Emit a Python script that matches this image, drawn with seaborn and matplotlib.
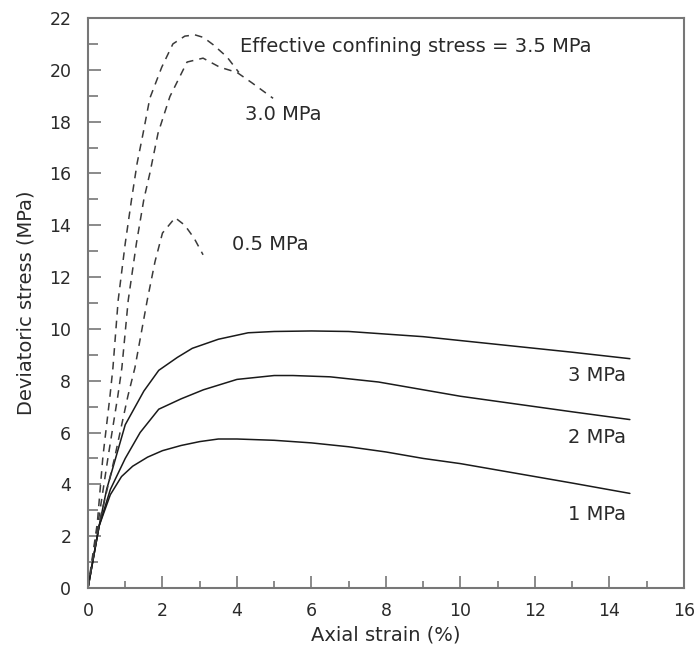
import matplotlib
matplotlib.use("Agg")
import matplotlib.pyplot as plt
from matplotlib.ticker import MultipleLocator
import seaborn as sns

# Drained tests (solid) at effective confining stress 1, 2, 3 MPa
strain_1 = [0, 0.3, 0.6, 0.9, 1.2, 1.6, 2.0, 2.5, 3.0, 3.5, 4.0, 5, 6, 7, 8, 9, 10, 11, 12, 13, 14.55]
stress_1 = [0, 2.4, 3.6, 4.3, 4.7, 5.05, 5.3, 5.5, 5.65, 5.75, 5.75, 5.7, 5.6, 5.45, 5.25, 5.0, 4.8, 4.55, 4.3, 4.05, 3.65]

strain_2 = [0, 0.3, 0.6, 1.0, 1.4, 1.9, 2.5, 3.1, 4.0, 5.0, 5.5, 6.5, 7.8, 9, 10, 11, 12, 13, 14.55]
stress_2 = [0, 2.4, 3.8, 5.0, 6.0, 6.9, 7.3, 7.65, 8.05, 8.2, 8.2, 8.15, 7.95, 7.65, 7.4, 7.2, 7.0, 6.8, 6.5]

strain_3 = [0, 0.3, 0.5, 1.0, 1.5, 1.9, 2.4, 2.8, 3.5, 4.3, 5.0, 6, 7, 8, 9, 10, 11, 12, 13, 14.55]
stress_3 = [0, 2.4, 3.8, 6.3, 7.6, 8.4, 8.9, 9.25, 9.6, 9.85, 9.9, 9.92, 9.9, 9.8, 9.7, 9.55, 9.4, 9.25, 9.1, 8.85]

# Undrained tests (dashed) at effective confining stress 0.5, 3.0, 3.5 MPa
strain_05 = [0, 0.3, 0.72, 1.07, 1.26, 1.59, 1.8, 2.0, 2.34, 2.6, 2.85, 3.09]
stress_05 = [0, 2.5, 5.06, 7.4, 8.5, 11.1, 12.6, 13.7, 14.29, 14.0, 13.5, 12.86]

strain_30 = [0, 0.27, 0.54, 0.80, 0.91, 1.08, 1.3, 1.50, 1.66, 1.88, 2.2, 2.66, 3.09, 3.54, 4.0, 4.4, 4.97]
stress_30 = [0, 2.5, 5.06, 7.4, 8.5, 11.1, 13.3, 15.0, 16.0, 17.55, 18.97, 20.3, 20.45, 20.1, 19.9, 19.5, 18.9]

strain_35 = [0, 0.25, 0.4, 0.59, 0.67, 0.81, 1.0, 1.17, 1.32, 1.48, 1.66, 1.98, 2.28, 2.6, 2.87, 3.1, 3.36, 3.73, 4.05]
stress_35 = [0, 2.5, 5.06, 7.4, 8.5, 11.1, 13.3, 15.0, 16.4, 17.55, 18.9, 20.1, 21.0, 21.3, 21.35, 21.25, 20.97, 20.5, 19.9]

sns.set_style("white")
plt.rcParams["font.family"] = ["DejaVu Sans"]

fig = plt.figure(figsize=(6.95, 6.52), dpi=100)
ax = fig.add_axes([0.1266, 0.0982, 0.8574, 0.8742])

solid = [(strain_1, stress_1), (strain_2, stress_2), (strain_3, stress_3)]
dashed = [(strain_05, stress_05), (strain_30, stress_30), (strain_35, stress_35)]

for xs, ys in solid:
    sns.lineplot(x=xs, y=ys, ax=ax, sort=False, estimator=None,
                 color="#1a1a1a", linewidth=1.1)
for xs, ys in dashed:
    sns.lineplot(x=xs, y=ys, ax=ax, sort=False, estimator=None,
                 color="#3a3a3a", linewidth=1.1,
                 linestyle=(0, (5, 4)))

ax.set_xlim(0, 16)
ax.set_ylim(0, 22)
ax.xaxis.set_major_locator(MultipleLocator(2))
ax.xaxis.set_minor_locator(MultipleLocator(1))
ax.yaxis.set_major_locator(MultipleLocator(2))
ax.yaxis.set_minor_locator(MultipleLocator(1))

gray = "#777777"
tc = "#2a2a2a"
for s in ax.spines.values():
    s.set_color(gray)
    s.set_linewidth(1.5)
ax.tick_params(axis="both", which="both", direction="in", color=gray,
               width=1.2, labelsize=12.5, labelcolor=tc,
               bottom=True, left=True, top=False, right=False)
ax.tick_params(axis="x", which="major", length=9, pad=10)
ax.tick_params(axis="x", which="minor", length=5)
ax.tick_params(axis="y", which="major", length=9, pad=12)
ax.tick_params(axis="y", which="minor", length=7)

ax.set_xlabel("Axial strain (%)", fontsize=14, color=tc, labelpad=4)
ax.set_ylabel("Deviatoric stress (MPa)", fontsize=14, color=tc, labelpad=10)

fs = 14
ax.text(4.08, 20.9, "Effective confining stress = 3.5 MPa", fontsize=fs, color=tc, va="center", ha="left")
ax.text(4.21, 18.26, "3.0 MPa", fontsize=fs, color=tc, va="center", ha="left")
ax.text(3.87, 13.24, "0.5 MPa", fontsize=fs, color=tc, va="center", ha="left")
ax.text(14.45, 8.22, "3 MPa", fontsize=fs, color=tc, va="center", ha="right")
ax.text(14.45, 5.79, "2 MPa", fontsize=fs, color=tc, va="center", ha="right")
ax.text(14.45, 2.82, "1 MPa", fontsize=fs, color=tc, va="center", ha="right")

fig.savefig("out.png", dpi=100)
